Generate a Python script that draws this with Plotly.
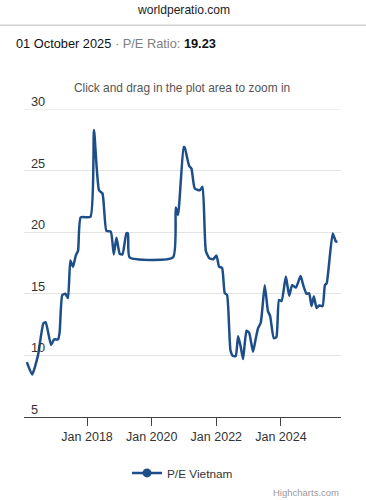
import plotly.graph_objects as go

dates = [
    "2016-02-20", "2016-04-20", "2016-06-25", "2016-08-25", "2016-09-20",
    "2016-11-20", "2016-12-25", "2017-02-07", "2017-02-25", "2017-03-27",
    "2017-05-01", "2017-05-30", "2017-06-26", "2017-07-26", "2017-08-26",
    "2017-09-21", "2017-10-21", "2018-02-08", "2018-03-20", "2018-05-16",
    "2018-06-24", "2018-08-08", "2018-09-26", "2018-10-30", "2018-11-29",
    "2019-01-05", "2019-02-05", "2019-03-21", "2019-04-08", "2019-04-27",
    "2020-08-29", "2020-09-29", "2020-10-25", "2020-12-28", "2021-01-09",
    "2021-02-27", "2021-03-26", "2021-05-02", "2021-06-28", "2021-07-29",
    "2021-09-04", "2021-10-12", "2021-11-25", "2022-01-03", "2022-02-01",
    "2022-03-07", "2022-04-06", "2022-05-02", "2022-06-10", "2022-07-09",
    "2022-08-08", "2022-09-04", "2022-10-01", "2022-10-30", "2022-12-08",
    "2023-01-06", "2023-02-20", "2023-03-22", "2023-04-17", "2023-05-18",
    "2023-07-02", "2023-08-07", "2023-09-01", "2023-10-12", "2023-11-11",
    "2023-12-10", "2024-01-08", "2024-02-26", "2024-04-03", "2024-05-07",
    "2024-06-18", "2024-08-10", "2024-09-09", "2024-10-17", "2024-11-15",
    "2024-12-12", "2025-01-07", "2025-02-07", "2025-03-08", "2025-04-16",
    "2025-05-12", "2025-06-01", "2025-08-08", "2025-09-13", "2025-10-01",
]
pe_values = [
    9.45, 8.45, 10.0, 12.6, 12.7,
    10.85, 11.3, 11.3, 11.9, 14.9,
    15.0, 14.65, 17.7, 17.2, 18.1,
    18.5, 21.2, 21.25, 28.3, 23.4,
    23.15, 20.1, 20.05, 18.2, 19.55,
    18.25, 18.2, 19.9, 19.9, 17.95,
    17.95, 22.0, 21.4, 26.9, 26.85,
    25.4, 25.15, 23.55, 23.4, 23.7,
    18.5, 17.9, 17.8, 18.1, 17.2,
    17.1, 15.05, 14.9, 10.4, 9.95,
    9.95, 11.55, 10.8, 9.7, 12.0,
    11.85, 10.3, 11.35, 12.2, 12.65,
    15.7, 13.6, 13.2, 11.4, 11.5,
    14.5, 14.4, 16.4, 14.85, 15.7,
    15.5, 16.45, 15.7, 15.0, 15.05,
    14.0, 14.8, 13.85, 14.05, 14.0,
    15.7, 15.85, 19.9, 19.25, 19.23,
]
y_ticks = [5, 10, 15, 20, 25, 30]
x_ticks = ["2018-01-01", "2020-01-01", "2022-01-01", "2024-01-01"]
x_tick_labels = ["Jan 2018", "Jan 2020", "Jan 2022", "Jan 2024"]
series_name = "P/E Vietnam"

LINE = "#1d4e89"
FONT = "Liberation Sans, Arial, sans-serif"

fig = go.Figure()
fig.add_trace(go.Scatter(
    x=dates, y=pe_values, mode="lines",
    line=dict(color=LINE, width=2.5, shape="spline", smoothing=0.5),
    showlegend=False, hoverinfo="x+y",
))
fig.add_trace(go.Scatter(
    x=[None], y=[None], mode="lines+markers", name=series_name,
    line=dict(color=LINE, width=2.5), marker=dict(color=LINE, size=9),
))

L, R, T, B = 24, 25, 109, 77
W, H = 366, 500
pw, ph = W - L - R, H - T - B

def px(xp):
    return (xp - L) / pw

def py(yp):
    return (H - B - yp) / ph

fig.update_layout(
    width=W, height=H,
    margin=dict(l=L, r=R, t=T, b=B, pad=0),
    paper_bgcolor="white", plot_bgcolor="white",
    font=dict(family=FONT, color="#333333", size=12),
    xaxis=dict(
        type="date", range=["2016-01-19", "2025-11-10"],
        tickvals=x_ticks, ticktext=x_tick_labels,
        showgrid=False, zeroline=False,
        showline=True, linecolor="#444444", linewidth=1,
        ticks="outside", ticklen=8, tickcolor="#444444", tickwidth=1,
        tickfont=dict(size=12.5, color="#333333"),
        fixedrange=True,
    ),
    yaxis=dict(
        range=[5, 30], tickvals=y_ticks,
        showgrid=True, gridcolor="#e3e3e3", gridwidth=1,
        zeroline=False, showline=False, ticks="",
        showticklabels=False,
        fixedrange=True,
    ),
    legend=dict(
        orientation="h", x=0.5, xanchor="center",
        y=py(480), yanchor="middle",
        font=dict(size=11.8, color="#333333"),
        bgcolor="rgba(0,0,0,0)",
    ),
    showlegend=True,
)

# top gridline drawn explicitly (edge of range)
fig.add_shape(type="line", xref="paper", yref="y",
              x0=0, x1=1, y0=y_ticks[-1], y1=y_ticks[-1],
              line=dict(color="#e3e3e3", width=1), layer="below")

for v in y_ticks:
    fig.add_annotation(text=str(v), xref="paper", yref="y",
                       x=px(28.5), y=v, xanchor="left", yanchor="bottom",
                       yshift=-2, showarrow=False,
                       font=dict(size=12.8, color="#333333"))

fig.add_shape(type="line", xref="paper", yref="paper",
              x0=px(0), x1=px(W), y0=py(23.5), y1=py(23.5),
              line=dict(color="#d0d0d0", width=1.5))

fig.add_annotation(text="worldperatio.com", xref="paper", yref="paper",
                   x=px(W / 2), y=py(8), xanchor="center", yanchor="middle",
                   showarrow=False, font=dict(size=12.1, color="#222222"))
fig.add_annotation(
    text="01 October 2025<span style='color:#808080'> · P/E Ratio: </span><b>19.23</b>",
    xref="paper", yref="paper", x=px(14), y=py(42),
    xanchor="left", yanchor="middle", showarrow=False,
    font=dict(size=12.8, color="#111111"))
fig.add_annotation(text="Click and drag in the plot area to zoom in",
                   xref="paper", yref="paper", x=px(182), y=py(88),
                   xanchor="center", yanchor="middle", showarrow=False,
                   font=dict(size=11.9, color="#555555"))
fig.add_annotation(text="Highcharts.com", xref="paper", yref="paper",
                   x=px(341), y=py(492), xanchor="right", yanchor="top",
                   showarrow=False, font=dict(size=9.5, color="#999999"))

fig.write_html("out.html", config={"displayModeBar": False},
               post_script="document.body.style.margin='0';")
